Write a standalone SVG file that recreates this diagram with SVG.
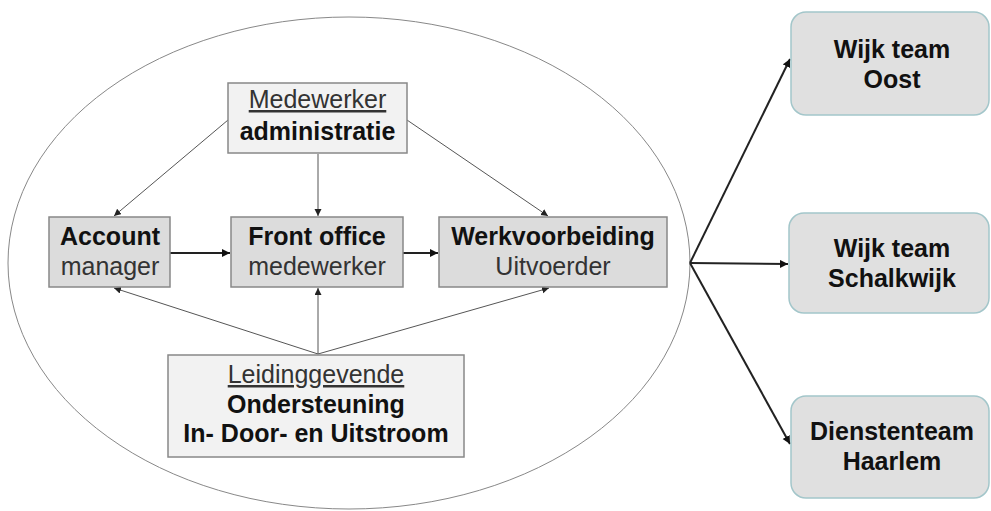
<svg xmlns="http://www.w3.org/2000/svg" width="991" height="511" viewBox="0 0 991 511">
<style>
  text { font-family: "Liberation Sans", Arial, sans-serif; font-size: 25px; text-anchor: middle; }
  .b { font-weight: bold; fill: #111; }
  .r { fill: #333; }
  .u { text-decoration: underline; }
  .light { fill: #f2f2f2; stroke: #888; stroke-width: 1.5; }
  .mid { fill: #dcdcdc; stroke: #888; stroke-width: 1.5; }
  .team { fill: #e0e0e0; stroke: #a3c6ca; stroke-width: 1.5; }
  .thin { stroke: #555; stroke-width: 1; fill: none; marker-end: url(#ah); }
  .thick { stroke: #222; stroke-width: 2; fill: none; marker-end: url(#ahb); }
</style>
<defs>
  <marker id="ah" markerUnits="userSpaceOnUse" markerWidth="8" markerHeight="8" refX="7" refY="3.5" orient="auto">
    <path d="M0,0 L7,3.5 L0,7 z" fill="#222"/>
  </marker>
  <marker id="ahb" markerUnits="userSpaceOnUse" markerWidth="10" markerHeight="10" refX="8" refY="4" orient="auto">
    <path d="M0,0 L8,4 L0,8 z" fill="#111"/>
  </marker>
</defs>
<rect width="991" height="511" fill="#fff"/>
<ellipse id="scope" cx="349" cy="263" rx="341" ry="246" fill="none" stroke="#888" stroke-width="1"/>

<g id="connectors">
  <line class="thin" x1="228" y1="120" x2="114" y2="216"/>
  <line class="thin" x1="318" y1="154" x2="318" y2="216"/>
  <line class="thin" x1="407" y1="120" x2="548" y2="216"/>
  <line class="thin" x1="318" y1="354" x2="114" y2="288"/>
  <line class="thin" x1="318" y1="354" x2="318" y2="288"/>
  <line class="thin" x1="318" y1="354" x2="549" y2="288"/>
  <line class="thick" x1="170" y1="253" x2="230" y2="253"/>
  <line class="thick" x1="403" y1="253" x2="438" y2="253"/>
  <line class="thick" x1="690" y1="263" x2="790" y2="59"/>
  <line class="thick" x1="690" y1="263" x2="788" y2="264"/>
  <line class="thick" x1="690" y1="263" x2="790" y2="444"/>
</g>

<g id="medewerker">
  <rect class="light" x="228" y="83" width="179" height="70"/>
  <text class="r u" x="317.5" y="108">Medewerker</text>
  <text class="b" x="317.5" y="140">administratie</text>
</g>
<g id="account">
  <rect class="mid" x="49" y="217" width="121" height="70"/>
  <text class="b" x="110" y="245">Account</text>
  <text class="r" x="110" y="275">manager</text>
</g>
<g id="frontoffice">
  <rect class="mid" x="231" y="217" width="172" height="70"/>
  <text class="b" x="317" y="245">Front office</text>
  <text class="r" x="317" y="275">medewerker</text>
</g>
<g id="werkvoorbeiding">
  <rect class="mid" x="439" y="217" width="228" height="70"/>
  <text class="b" x="553" y="245">Werkvoorbeiding</text>
  <text class="r" x="553" y="275">Uitvoerder</text>
</g>
<g id="leidinggevende">
  <rect class="light" x="168" y="355" width="296" height="102"/>
  <text class="r u" x="316" y="383">Leidinggevende</text>
  <text class="b" x="316" y="413">Ondersteuning</text>
  <text class="b" x="316" y="442">In- Door- en Uitstroom</text>
</g>
<g id="oost">
  <rect class="team" x="791" y="12" width="198" height="103" rx="15"/>
  <text class="b" x="892" y="58">Wijk team</text>
  <text class="b" x="892" y="88">Oost</text>
</g>
<g id="schalkwijk">
  <rect class="team" x="789" y="213" width="200" height="100" rx="15"/>
  <text class="b" x="892" y="257">Wijk team</text>
  <text class="b" x="892" y="287">Schalkwijk</text>
</g>
<g id="haarlem">
  <rect class="team" x="791" y="396" width="198" height="102" rx="15"/>
  <text class="b" x="892" y="440">Dienstenteam</text>
  <text class="b" x="892" y="470">Haarlem</text>
</g>
</svg>
